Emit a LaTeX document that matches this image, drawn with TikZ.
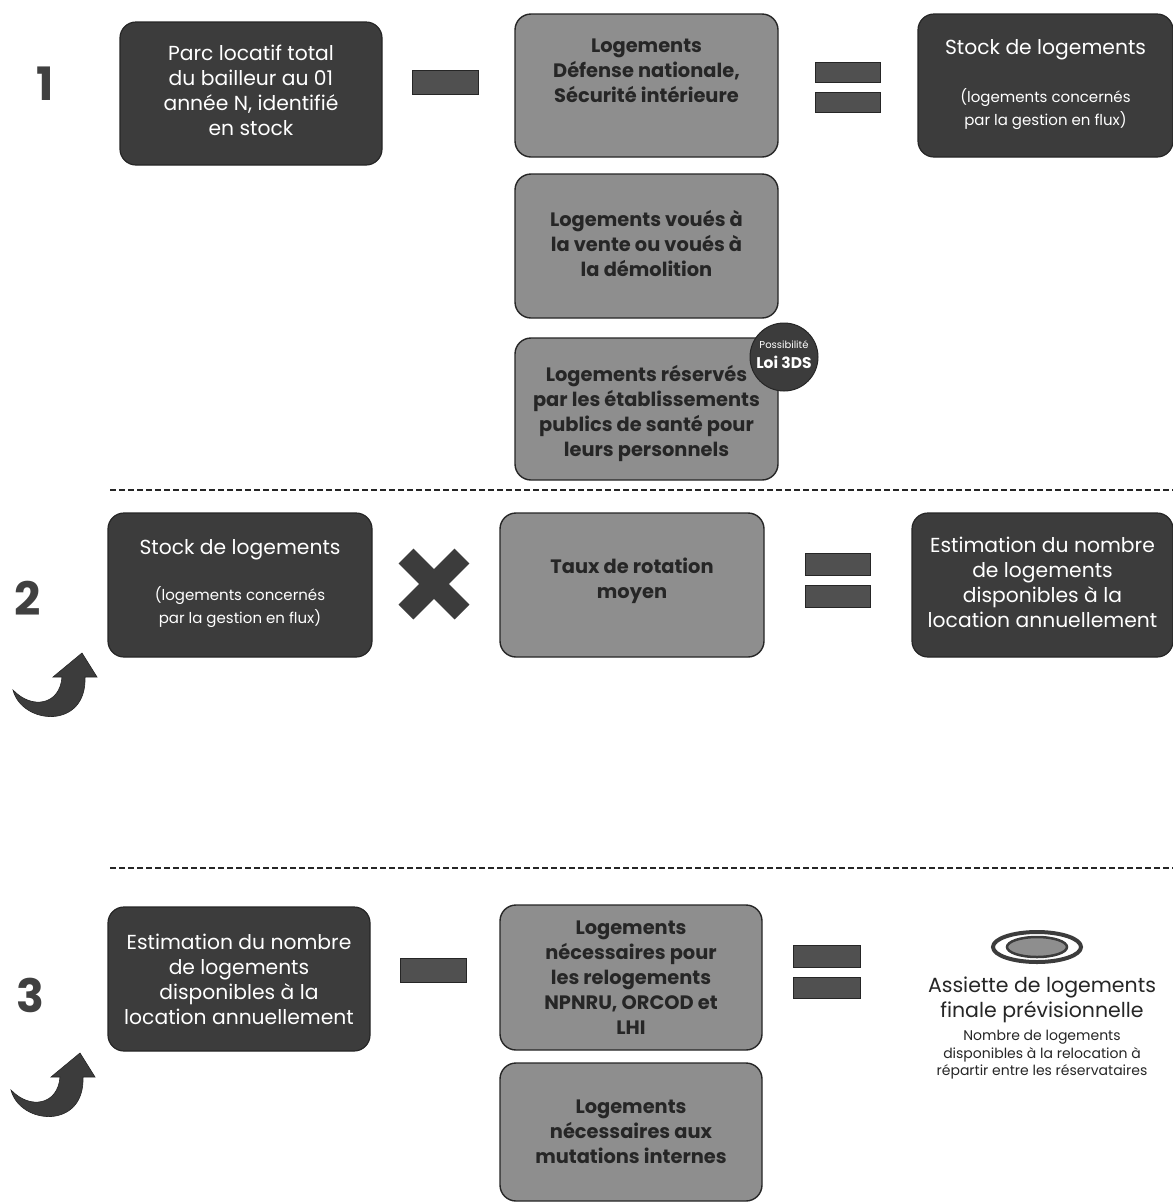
\documentclass[tikz,border=0pt]{standalone}
\usepackage{fontspec}
\usetikzlibrary{shapes.geometric}
\setmainfont{Poppins}
\definecolor{boxdark}{HTML}{3C3C3C}
\definecolor{boxgray}{HTML}{8E8E8E}
\definecolor{inkdark}{HTML}{262626}
\begin{document}
\begin{tikzpicture}[x=1pt,y=-1pt,
  darkbox/.style={rounded corners=16pt, fill=boxdark, draw=inkdark, line width=1.2pt, inner sep=0pt},
  graybox/.style={rounded corners=16pt, fill=boxgray, draw=inkdark, line width=1.4pt, inner sep=0pt},
  wtext/.style={text=white, align=center, inner sep=0pt, font=\fontsize{20.3}{25}\selectfont},
  wsmall/.style={text=white, align=center, inner sep=0pt, font=\fontsize{15}{23}\selectfont},
  gtext/.style={text=inkdark, align=center, inner sep=0pt, font=\bfseries\fontsize{19.4}{25}\selectfont},
  opsign/.style={fill=boxdark!90, draw=inkdark, line width=0.8pt},
  stepnum/.style={text=black!75, inner sep=0pt, font=\bfseries\fontsize{46}{46}\selectfont},
  sepline/.style={draw=inkdark, line width=2.5pt, dash pattern=on 6pt off 3pt},
  curvarrow/.style={fill=boxdark, draw=inkdark, line width=0.6pt}
]
\useasboundingbox (0,0) rectangle (1173,1203);
\fill[white] (0,0) rectangle (1173,1203);

% ---------- step 1 ----------
\node[stepnum] (n1) at (45,84) {1};
\node[darkbox, minimum width=262, minimum height=143] (a1) at (251,93.5) {};
\node[wtext] (a1t) at (251,90) {Parc locatif total\\du bailleur au 01\\année N, identifié\\en stock};

\draw[opsign] (412,70) rectangle (478,94);

\node[graybox, minimum width=263, minimum height=143] (b1) at (646.5,85.5) {};
\node[gtext] (b1t) at (646.5,71) {Logements\\Défense nationale,\\Sécurité intérieure};

\draw[opsign] (815,62) rectangle (880,82);
\draw[opsign] (815,92) rectangle (880,112);

\node[darkbox, minimum width=255, minimum height=143] (c1) at (1045.5,85.5) {};
\node[wtext] (c1t) at (1045.5,50) {Stock de logements};
\node[wsmall] (c1s) at (1045.5,109.5) {(logements concernés\\par la gestion en flux)};

\node[graybox, minimum width=263, minimum height=144] (b2) at (646.5,246) {};
\node[gtext] (b2t) at (646.5,243) {Logements voués à\\la vente ou voués à\\la démolition};

\node[graybox, minimum width=263, minimum height=142] (b3) at (646.5,409) {};
\node[gtext] (b3t) at (646.5,413.5) {Logements réservés\\par les établissements\\publics de santé pour\\leurs personnels};

\node[circle, fill=boxdark, draw=inkdark, line width=1pt, minimum size=68, inner sep=0pt] (badge) at (784,357) {};
\node[text=white, align=center, inner sep=0pt, font=\fontsize{10}{12}\selectfont] (badget1) at (784,345) {Possibilité};
\node[text=white, align=center, inner sep=0pt, font=\bfseries\fontsize{15.5}{18}\selectfont] (badget2) at (784,362) {Loi 3DS};

\coordinate (s1l) at (110,490);
\coordinate (s1r) at (1173,490);
\draw[sepline] (s1l) -- (s1r);

% ---------- step 2 ----------
\node[stepnum] (n2) at (28,598) {2};
\node[darkbox, minimum width=264, minimum height=144] (a2) at (240,585) {};
\node[wtext] (a2t) at (240,550) {Stock de logements};
\node[wsmall] (a2s) at (240,607.5) {(logements concernés\\par la gestion en flux)};

\draw[line width=21pt, draw=boxdark] (406,556) -- (462,612);
\draw[line width=21pt, draw=boxdark] (462,556) -- (406,612);

\node[graybox, minimum width=264, minimum height=144] (bt) at (632,585) {};
\node[gtext] (btt) at (632,580.5) {Taux de rotation\\moyen};

\draw[opsign] (805,553) rectangle (870,575);
\draw[opsign] (805,585) rectangle (870,607);

\node[darkbox, minimum width=261, minimum height=144] (c2) at (1042.5,585) {};
\node[wtext] (c2t) at (1042.5,582.5) {Estimation du nombre\\de logements\\disponibles à la\\location annuellement};

\begin{scope}[shift={(82,653)}]
\draw[curvarrow] (-69,37) .. controls (-60,72) and (5,77) .. (3,24) -- (15,24) -- (0,0) -- (-29,24) -- (-20,24) .. controls (-22,52) and (-50,57) .. (-69,37) -- cycle;
\end{scope}

\coordinate (s2l) at (110,868);
\coordinate (s2r) at (1173,868);
\draw[sepline] (s2l) -- (s2r);

% ---------- step 3 ----------
\node[stepnum] (n3) at (30,995) {3};
\node[darkbox, minimum width=262, minimum height=144] (a3) at (239,979) {};
\node[wtext] (a3t) at (239,979.5) {Estimation du nombre\\de logements\\disponibles à la\\location annuellement};

\draw[opsign] (400,958) rectangle (466,982);

\node[graybox, minimum width=262, minimum height=145] (b3a) at (631,977.5) {};
\node[gtext] (b3at) at (631,978) {Logements\\nécessaires pour\\les relogements\\NPNRU, ORCOD et\\LHI};

\node[graybox, minimum width=262, minimum height=138] (b3b) at (631,1132) {};
\node[gtext] (b3bt) at (631,1132) {Logements\\nécessaires aux\\mutations internes};

\draw[opsign] (793,945) rectangle (860,967);
\draw[opsign] (793,977) rectangle (860,998);

\node[ellipse, draw=boxdark, line width=4pt, fill=white, minimum width=88, minimum height=30, inner sep=0pt] (ringout) at (1037,947) {};
\node[ellipse, draw=boxdark, line width=2.5pt, fill=boxgray, minimum width=60, minimum height=20, inner sep=0pt] (ringin) at (1037,947) {};

\node[text=inkdark, align=center, inner sep=0pt, font=\fontsize{20.5}{25}\selectfont] (ast) at (1042,1000) {Assiette de logements\\finale prévisionnelle};
\node[text=inkdark, align=center, inner sep=0pt, font=\fontsize{14}{17.5}\selectfont] (asts) at (1042,1055) {Nombre de logements\\disponibles à la relocation à\\répartir entre les réservataires};

\begin{scope}[shift={(80,1053)}]
\draw[curvarrow] (-69,37) .. controls (-60,72) and (5,77) .. (3,24) -- (15,24) -- (0,0) -- (-29,24) -- (-20,24) .. controls (-22,52) and (-50,57) .. (-69,37) -- cycle;
\end{scope}

\end{tikzpicture}
\end{document}
